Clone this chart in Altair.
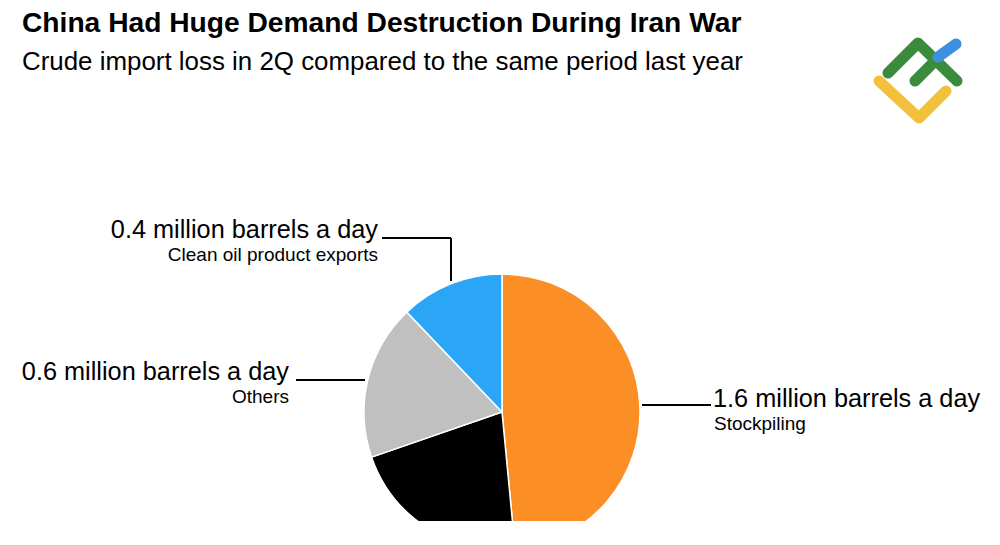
import altair as alt
import pandas as pd

# Crude import loss components, million barrels a day (2Q, year on year)
categories = ["Stockpiling", "Unlabeled", "Others", "Clean oil product exports"]
values = [1.6, 0.7, 0.6, 0.4]
colors = ["#FB8F26", "#000000", "#C0C0C0", "#2BA6F7"]

title_text = "China Had Huge Demand Destruction During Iran War"
subtitle_text = "Crude import loss in 2Q compared to the same period last year"

# Brand mark strokes (x, y in canvas pixels)
logo_strokes = {
    "roof": [(888, 73), (918, 43), (957, 81)],
    "bar": [(915, 81), (937, 59)],
    "tip": [(938, 57), (956, 44)],
    "base": [(879, 81), (919, 118), (946, 91)],
}
logo_colors = {"roof": "#3A8B3C", "bar": "#3A8B3C", "tip": "#3D8FDF", "base": "#F1C13B"}

W, H = 1000, 545
CX, CY, R = 502, 412, 138
FONT = "Liberation Sans"

pie_df = pd.DataFrame({"category": categories, "value": values, "order": range(len(values))})

pie = alt.Chart(pie_df).mark_arc(radius=R, stroke="white", strokeWidth=1.5).encode(
    theta=alt.Theta("value:Q", stack=True),
    order=alt.Order("order:Q"),
    color=alt.Color("category:N", scale=alt.Scale(domain=categories, range=colors), legend=None),
    x=alt.value(CX),
    y=alt.value(CY),
)

# the pie is cut off along the bottom edge
cover = alt.Chart(pd.DataFrame({"a": [0]})).mark_rect(color="white").encode(
    x=alt.value(0), x2=alt.value(W), y=alt.value(521), y2=alt.value(H)
)


def text_layer(txt, x, y, size, align="left", weight="normal"):
    return alt.Chart(pd.DataFrame({"t": [txt]})).mark_text(
        align=align, baseline="alphabetic", font=FONT, fontSize=size,
        fontWeight=weight, color="#000000",
    ).encode(x=alt.value(x), y=alt.value(y), text="t:N")


def rule_layer(x1, y1, x2, y2):
    return alt.Chart(pd.DataFrame({"a": [0]})).mark_rule(color="#000000", strokeWidth=2).encode(
        x=alt.value(x1), x2=alt.value(x2), y=alt.value(y1), y2=alt.value(y2)
    )


def amount(v):
    return f"{v} million barrels a day"


BIG, SMALL = 25.3, 19

labels = [
    text_layer(title_text, 22, 32, 28.2, weight="bold"),
    text_layer(subtitle_text, 22, 70, 25.9),
    # Clean oil product exports
    text_layer(amount(values[3]), 378, 238, BIG, align="right"),
    text_layer(categories[3], 378, 261, SMALL, align="right"),
    rule_layer(382, 238, 451, 238),
    rule_layer(451, 238, 451, 281),
    # Others
    text_layer(amount(values[2]), 289, 380, BIG, align="right"),
    text_layer(categories[2], 289, 403, SMALL, align="right"),
    rule_layer(296, 380, 365, 380),
    # Stockpiling
    text_layer(amount(values[0]), 713, 407, BIG),
    text_layer(categories[0], 714, 430, SMALL),
    rule_layer(642, 405, 711, 405),
]

logo_rows = []
for name, pts in logo_strokes.items():
    for i, (px, py) in enumerate(pts):
        logo_rows.append({"stroke": name, "i": i, "px": px, "py": py})
logo_df = pd.DataFrame(logo_rows)

logo = alt.Chart(logo_df).mark_line(strokeWidth=11, strokeCap="round", strokeJoin="round").encode(
    x=alt.X("px:Q", scale=alt.Scale(domain=[0, W], range=[0, W]), axis=None),
    y=alt.Y("py:Q", scale=alt.Scale(domain=[0, H], range=[0, H]), axis=None),
    detail="stroke:N",
    order="i:Q",
    color=alt.Color("stroke:N", scale=alt.Scale(domain=list(logo_colors), range=list(logo_colors.values())), legend=None),
)

chart = alt.layer(pie, cover, *labels, logo).resolve_scale(color="independent").properties(
    width=W, height=H, padding=0, autosize=alt.AutoSizeParams(type="none"),
    background="white",
).configure_view(stroke=None)

chart.save("out.html", embed_options={"renderer": "svg", "actions": False})
